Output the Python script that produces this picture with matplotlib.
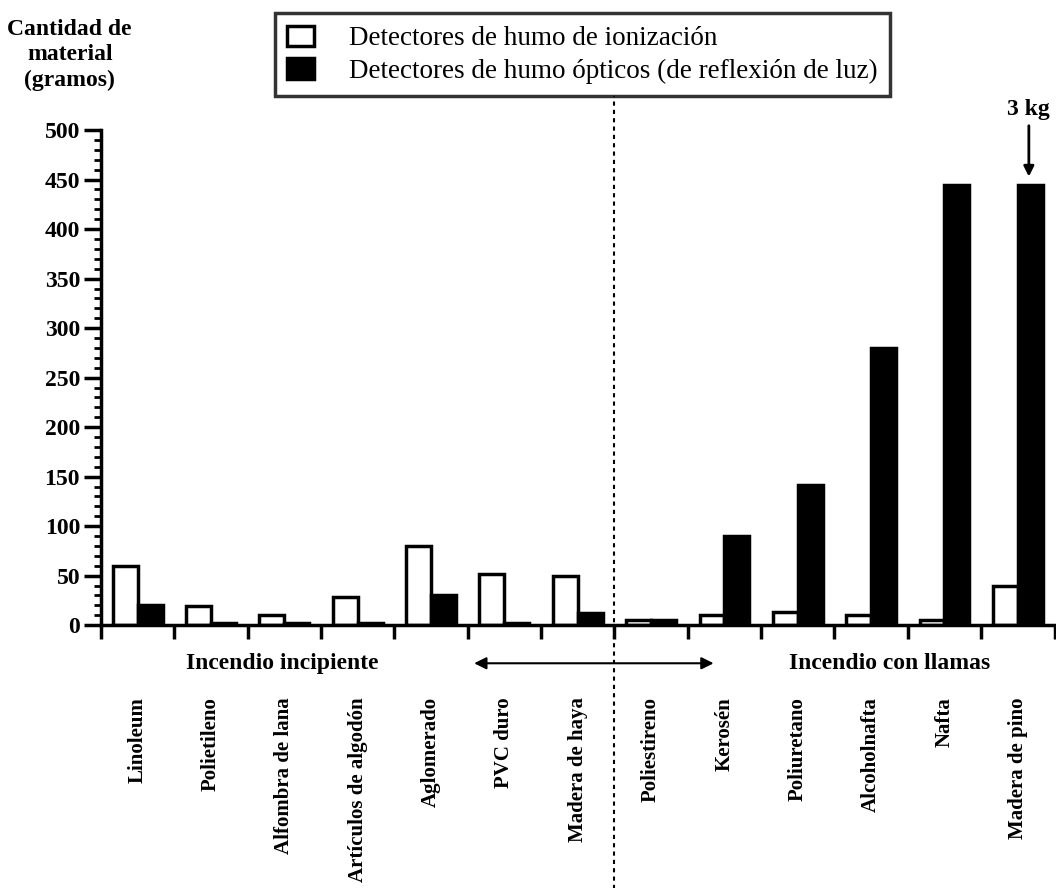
import numpy as np
import matplotlib
matplotlib.use("Agg")
import matplotlib.pyplot as plt
from matplotlib.patches import Patch
from matplotlib.ticker import MultipleLocator

# === Data ===
materiales = ["Linoleum", "Polietileno", "Alfombra de lana", "Artículos de algodón",
              "Aglomerado", "PVC duro", "Madera de haya", "Poliestireno", "Kerosén",
              "Poliuretano", "Alcoholnafta", "Nafta", "Madera de pino"]
ionizacion = [60, 19, 10, 28, 80, 52, 50, 5, 10, 13, 10, 5, 40]
opticos = [20, 2, 2, 2, 30, 2, 12, 5, 90, 142, 280, 445, 445]

plt.rcParams['font.family'] = ['Liberation Serif', 'DejaVu Serif']

fig = plt.figure(figsize=(10.56, 8.88), dpi=100)
ax = fig.add_axes([0.0956, 0.296, 0.903, 0.5575])

x = np.arange(len(materiales))
w = 0.34
ax.bar(x - w / 2, ionizacion, w, color='white', edgecolor='black', linewidth=2.5)
ax.bar(x + w / 2, opticos, w, color='black', edgecolor='black', linewidth=2.5)

ax.set_xlim(-0.5, len(materiales) - 0.5)
ax.set_ylim(0, 500)
for s in ['top', 'right']:
    ax.spines[s].set_visible(False)
ax.spines['left'].set_linewidth(2.5)
ax.spines['bottom'].set_linewidth(2.5)

# y axis
ax.set_yticks(range(0, 501, 50))
ax.yaxis.set_minor_locator(MultipleLocator(10))
ax.tick_params(axis='y', which='major', length=12, width=2.5, labelsize=17, pad=3)
ax.tick_params(axis='y', which='minor', length=5, width=2)
for lab in ax.get_yticklabels():
    lab.set_fontweight('bold')

# x axis: boundary ticks, labels at group centres
ax.set_xticks(np.arange(-0.5, len(materiales) + 0.5, 1.0))
ax.set_xticklabels([])
ax.tick_params(axis='x', which='major', length=10, width=2.5)
ax.set_xticks(x, minor=True)
ax.set_xticklabels(materiales, minor=True, rotation=90, va='top', fontsize=15,
                   fontweight='bold')
ax.tick_params(axis='x', which='minor', length=0, pad=52)

# separation line between the two fire types
trans = ax.get_xaxis_transform()
ax.plot([6.5, 6.5], [-0.55, 1.07], transform=trans, color='black', linestyle=(0, (2, 2)),
        linewidth=1.5, clip_on=False)
ax.annotate("", xy=(4.55, -0.077), xytext=(7.89, -0.077), xycoords=trans, textcoords=trans,
            arrowprops=dict(arrowstyle='<|-|>', color='black', lw=1.5, mutation_scale=18))
ax.text(1.97, -0.077, "Incendio incipiente", transform=trans, ha='center', va='center',
        fontsize=17, fontweight='bold')
ax.text(10.25, -0.077, "Incendio con llamas", transform=trans, ha='center', va='center',
        fontsize=17, fontweight='bold')

# 3 kg note
ax.annotate("3 kg", xy=(12.15, 453), xytext=(12.15, 510), ha='center', va='bottom',
            fontsize=17, fontweight='bold', annotation_clip=False,
            arrowprops=dict(arrowstyle='-|>', color='black', lw=2, mutation_scale=15,
                            shrinkA=2, shrinkB=0))

# y label
fig.text(0.066, 0.938, "Cantidad de\nmaterial\n(gramos)", ha='center', va='center',
         fontsize=17, fontweight='bold', linespacing=1.25)

handles = [Patch(facecolor='white', edgecolor='black', linewidth=2.5),
           Patch(facecolor='black', edgecolor='black', linewidth=2.5)]
leg = fig.legend(handles, ["Detectores de humo de ionización",
                           "Detectores de humo ópticos (de reflexión de luz)"],
                 loc='upper left', bbox_to_anchor=(0.26, 0.985), fontsize=19.5,
                 frameon=True, fancybox=False, edgecolor='black', handlelength=1.0,
                 handleheight=0.8, borderpad=0.45, labelspacing=0.25, handletextpad=1.3,
                 borderaxespad=0)
leg.get_frame().set_linewidth(2.5)

fig.savefig("out.png", dpi=100)
